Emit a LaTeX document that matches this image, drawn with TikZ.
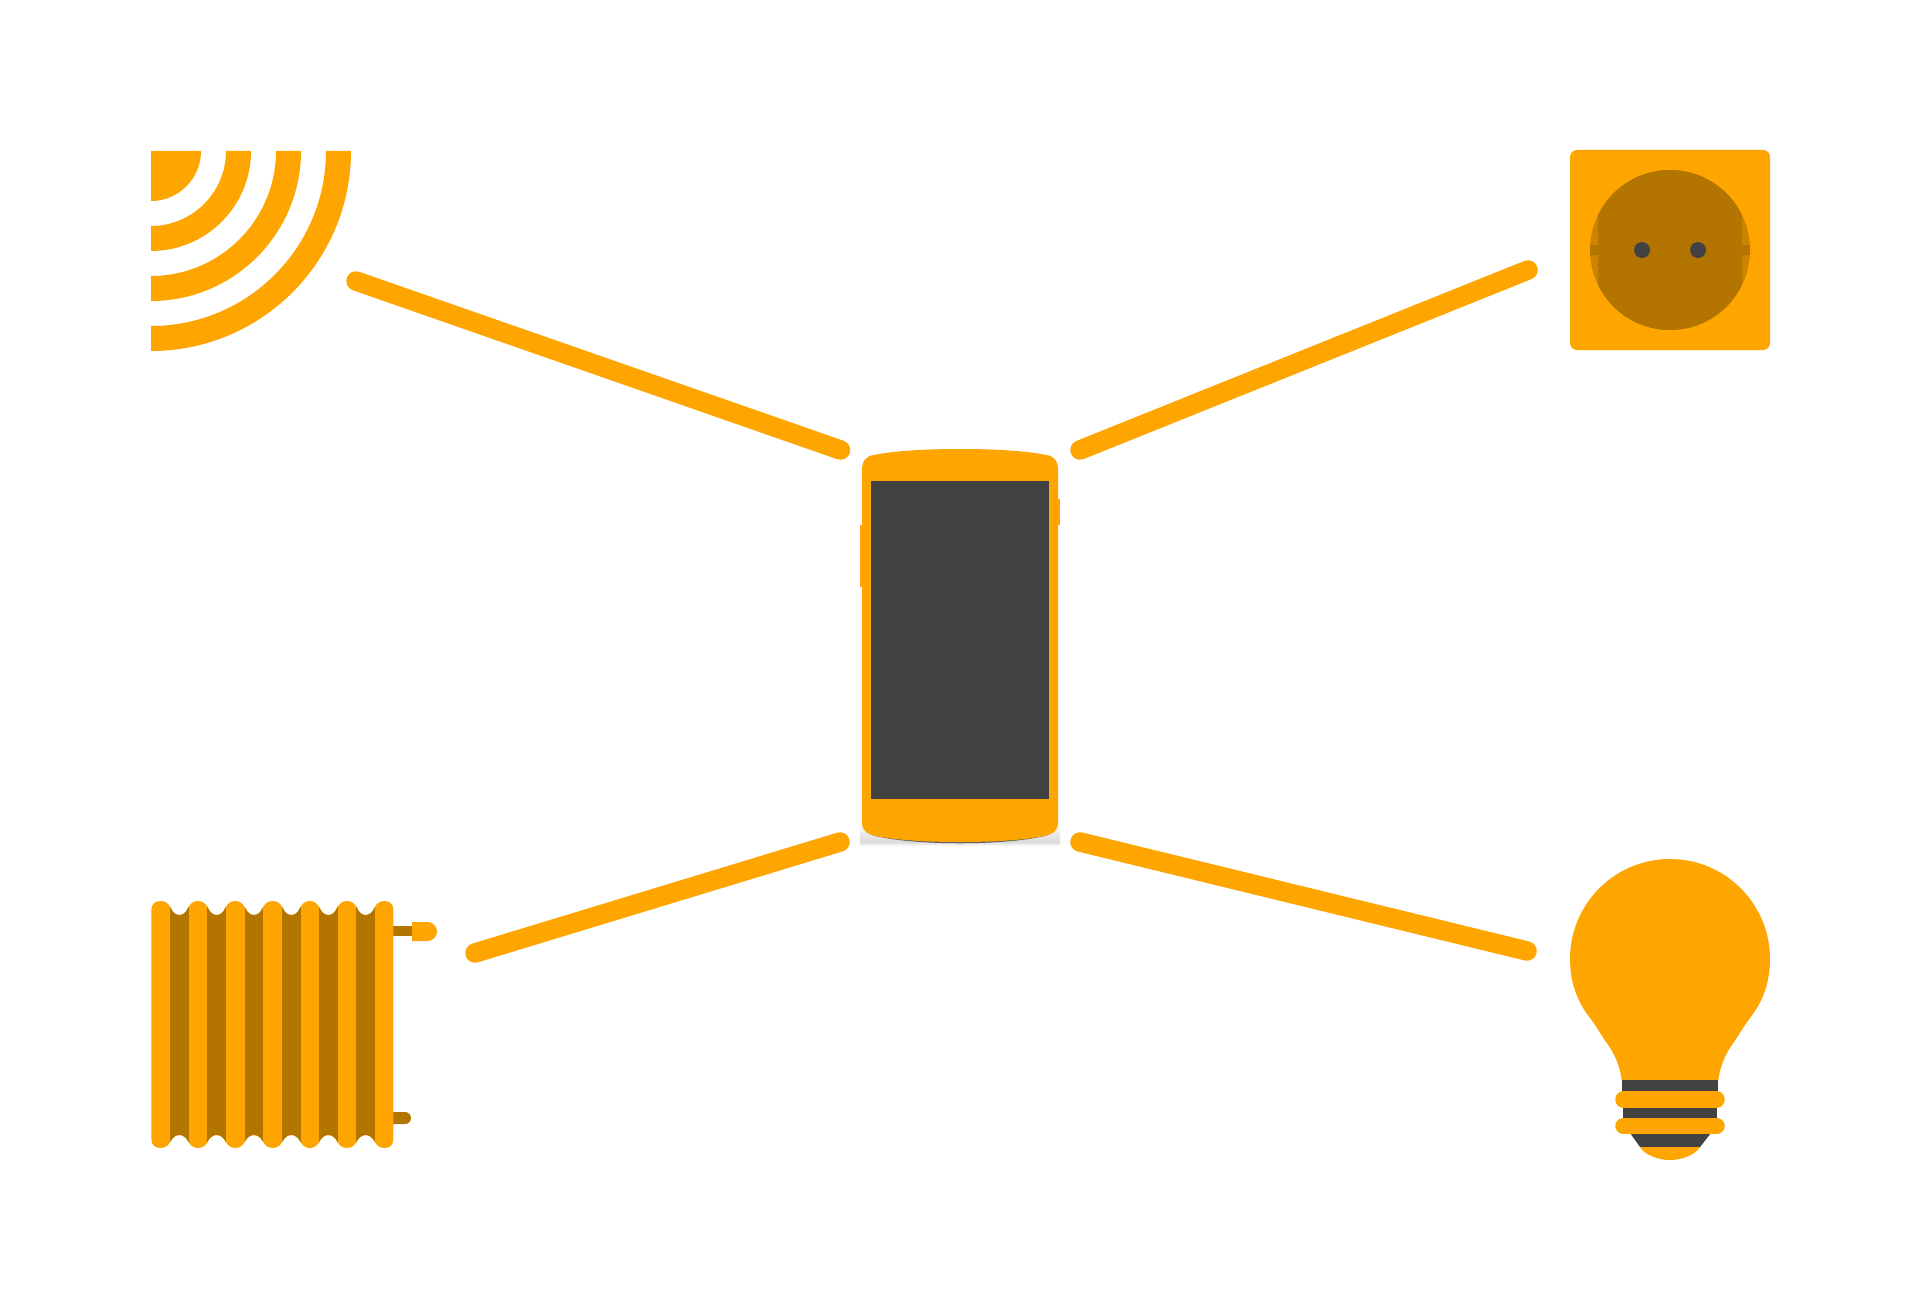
\documentclass[tikz,border=0pt]{standalone}
\usetikzlibrary{calc}
\definecolor{org}{HTML}{FFA500}
\definecolor{drk}{HTML}{B37400}
\definecolor{sid}{HTML}{CC8400}
\definecolor{ink}{HTML}{424242}
\tikzset{
  link/.style={draw=org,line width=19.5pt,line cap=round},
  pill/.style={draw=org,line width=16.5pt,line cap=round}
}
\newcommand{\radpath}{(151.4,1139) -- (151.4,910) .. controls (151.4,904) and (155,901) .. (160.7,901)
  \foreach \c in {160.7,198,235.3,272.7,309.7,347}{
    .. controls ({\c+5},901) and ({\c+8},904) .. ({\c+10},908)
    .. controls ({\c+12},912.5) and ({\c+15},915) .. ({\c+18.65},915)
    .. controls ({\c+22.3},915) and ({\c+25.3},912.5) .. ({\c+27.3},908)
    .. controls ({\c+29.3},904) and ({\c+32.3},901) .. ({\c+37.3},901)}
  .. controls (390,901) and (393.3,904) .. (393.3,910) -- (393.3,1139)
  .. controls (393.3,1145) and (390,1148) .. (384.3,1148)
  \foreach \c in {347,309.7,272.7,235.3,198,160.7}{
    .. controls ({\c+32.3},1148) and ({\c+29.3},1145) .. ({\c+27.3},1141)
    .. controls ({\c+25.3},1137.5) and ({\c+22.3},1135) .. ({\c+18.65},1135)
    .. controls ({\c+15},1135) and ({\c+12},1137.5) .. ({\c+10},1141)
    .. controls ({\c+8},1145) and ({\c+5},1148) .. (\c,1148)}
  .. controls (155,1148) and (151.4,1145) .. (151.4,1139) -- cycle}
\begin{document}
\begin{tikzpicture}[x=1pt,y=-1pt]
\useasboundingbox (0,0) rectangle (1920,1300);
\fill[white] (0,0) rectangle (1920,1300);

% connector anchors
\coordinate (wifiEnd) at (356,281);
\coordinate (phoneTL) at (840.5,450);
\coordinate (plugEnd) at (1528,270);
\coordinate (phoneTR) at (1080,450);
\coordinate (radEnd) at (475,953);
\coordinate (phoneBL) at (840,842);
\coordinate (bulbEnd) at (1527,951);
\coordinate (phoneBR) at (1080,842);

% wifi
\fill[org] (151,151) -- (201,151) arc[start angle=0,end angle=90,radius=50] -- cycle;
\foreach \ri/\ro in {75/100,125/150,175/200}{
  \fill[org] (151+\ri,151) -- (151+\ro,151) arc[start angle=0,end angle=90,radius=\ro]
     -- (151,151+\ri) arc[start angle=90,end angle=0,radius=\ri] -- cycle;
}

% socket
\fill[org,rounded corners=7pt] (1570,150) rectangle (1770,350);
\fill[sid] (1670,250) circle[radius=80];
\begin{scope}
  \clip (1670,250) circle[radius=80];
  \fill[drk] (1598,160) rectangle (1742,340);
  \fill[drk] (1585,245) rectangle (1755,255);
\end{scope}
\fill[ink] (1642,250) circle[radius=8];
\fill[ink] (1698,250) circle[radius=8];

% radiator
\fill[drk] (393,926) rectangle (414,936);
\fill[org] (412,922) -- (427.5,922) arc[start angle=-90,end angle=90,radius=9.5] -- (412,941) -- cycle;
\fill[drk] (393,1112) -- (405,1112) arc[start angle=-90,end angle=90,radius=6] -- (393,1124) -- cycle;
\fill[org] \radpath;
\begin{scope}
  \clip \radpath;
  \foreach \c in {170,207.3,244.6,282,319,356.3}{
    \fill[drk] (\c,895) rectangle (\c+18.7,1155);
  }
\end{scope}

% bulb
\fill[org] (1622,1082) .. controls (1620,1066) and (1615,1054) .. (1606,1042)
  .. controls (1600,1033) and (1596,1026) .. (1590,1018)
  .. controls (1579,1004) and (1570,985) .. (1570,959)
  arc[start angle=180,end angle=360,radius=100]
  .. controls (1770,985) and (1761,1004) .. (1750,1018)
  .. controls (1744,1026) and (1740,1033) .. (1734,1042)
  .. controls (1725,1054) and (1720,1066) .. (1718,1082) -- cycle;
\fill[ink] (1622,1080) rectangle (1717.5,1092);
\fill[ink] (1623,1107) rectangle (1717,1119);
\fill[ink] (1630,1133) -- (1711,1133) -- (1700,1147) -- (1640,1147) -- cycle;
\draw[pill] (1623.5,1099.5) -- (1716.5,1099.5);
\draw[pill] (1623.5,1126) -- (1716.5,1126);
\fill[org] (1640,1147) -- (1700,1147) .. controls (1695,1155) and (1682,1160) .. (1670,1160)
  .. controls (1658,1160) and (1645,1155) .. (1640,1147) -- cycle;

% phone
\shade[top color=white,bottom color=black!14] (860,822) rectangle (1060,842);
\shade[top color=black!14,bottom color=white] (860,842) rectangle (1060,846);
\fill[ink,opacity=.8] (872,835) .. controls (910,846) and (1010,846) .. (1048,835) -- (1048,828) -- (872,828) -- cycle;
\fill[org] (860,525) rectangle (864,587);
\fill[org] (1056,499) rectangle (1060,525);
\fill[org] (862,470) .. controls (862,461) and (866,456) .. (874,455)
  .. controls (892,451) and (925,449) .. (960,449)
  .. controls (995,449) and (1028,451) .. (1046,455)
  .. controls (1054,456) and (1058,461) .. (1058,470)
  -- (1058,822) .. controls (1058,830) and (1054,834) .. (1044,836)
  .. controls (1025,840) and (995,842) .. (960,842)
  .. controls (925,842) and (895,840) .. (876,836)
  .. controls (866,834) and (862,830) .. (862,822) -- cycle;
\fill[ink] (871,481) rectangle (1049,799);

% connectors
\draw[link] (wifiEnd) -- (phoneTL);
\draw[link] (phoneTR) -- (plugEnd);
\draw[link] (radEnd) -- (phoneBL);
\draw[link] (phoneBR) -- (bulbEnd);
\end{tikzpicture}
\end{document}
